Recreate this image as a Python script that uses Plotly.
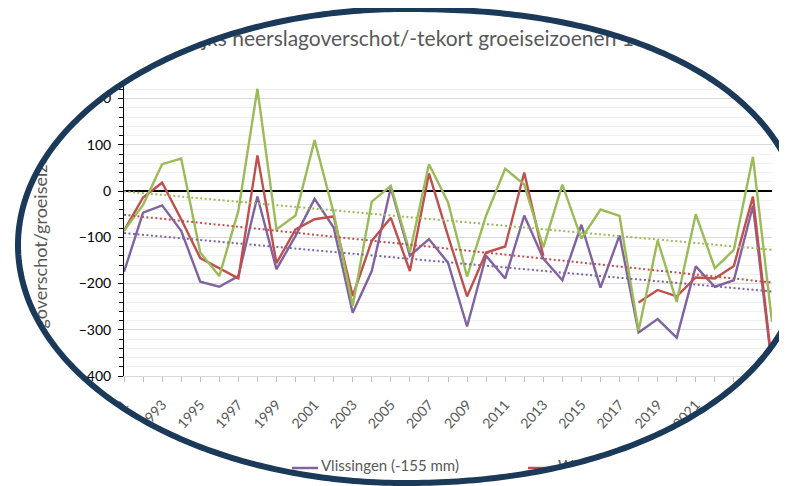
import numpy as np
import plotly.graph_objects as go

# ---------------- data ----------------
years = list(range(1991, 2026))
vlissingen = [-175, -47, -31, -86, -196, -207, -184, -12, -169, -97, -17, -79, -263, -173, 7,
              -140, -104, -155, -293, -140, -189, -53, -146, -193, -73, -209, -96, -306, -277,
              -317, -163, -207, -193, -32, -380]
wilhelminadorp = [-86, -14, 18, -61, -145, -167, -189, 77, -156, -83, -61, -55, -227, -108, -58,
                  -173, 38, -97, -228, -133, -120, 40, -140, None, None, None, None, -241, -214,
                  -228, -187, -189, -162, -12, -375]
westdorpe = [-86, -30, 58, 70, -133, -184, -43, 221, -83, -53, 110, -47, -248, -23, 11,
             -133, 58, -24, -185, -53, 48, 14, -122, 14, -103, -40, -54, -302, -107,
             -240, -50, -167, -127, 74, -283]
series_names = ["Vlissingen (-155 mm)", "Wilhelminadorp (-138 mm)", "Westdorpe (-64 mm)"]
series_colors = ["#8064A2", "#C0504D", "#9BBB59"]
title_text = "Jaarlijks neerslagoverschot/-tekort groeiseizoenen 1991-2025"
ytitle_text = "neerslagoverschot/groeiseizoen (mm)"

# ---------------- geometry (window pixels; page body has an 8px margin) ----------------
OFF = 8
WIN_W, WIN_H = 787, 486
W, H = WIN_W - OFF, WIN_H - OFF
PL, PR, PT, PB = 124, 772, 80, 376          # plot area in window pixels
X0, X1 = 1991, 2025
Y0, Y1 = -400, 240


def val_of(py):
    return Y1 - (py - PT) / (PB - PT) * (Y1 - Y0)


FONT = "Lato"
fig = go.Figure()

all_series = [vlissingen, wilhelminadorp, westdorpe]
for vals, name, col in zip(all_series, series_names, series_colors):
    fig.add_trace(go.Scatter(x=years, y=vals, mode="lines", name=name,
                             line=dict(color=col, width=2.4), connectgaps=False,
                             showlegend=False, hoverinfo="skip"))

# linear trendlines (least squares on each series)
for vals, col in zip(all_series, series_colors):
    xs = np.array([y for y, v in zip(years, vals) if v is not None], float)
    ys = np.array([v for v in vals if v is not None], float)
    a, b = np.polyfit(xs, ys, 1)
    fig.add_trace(go.Scatter(x=[X0, X1], y=[a * X0 + b, a * X1 + b], mode="lines",
                             line=dict(color=col, width=2, dash="2px,2.5px"),
                             showlegend=False, hoverinfo="skip"))

# dummy trace that carries the y-title axis
fig.add_trace(go.Scatter(x=[None], y=[None], yaxis="y2", showlegend=False, hoverinfo="skip"))

# full-window overlay subplot (x3/y3 in window pixels) for title, legend and the oval frame
fig.add_trace(go.Scatter(x=[441], y=[41], xaxis="x3", yaxis="y3", mode="text",
                         text=[title_text],
                         textfont=dict(family=FONT, size=21, color="#595959"),
                         showlegend=False, hoverinfo="skip"))
fig.add_trace(go.Scatter(x=[321, 558], y=[467, 467], xaxis="x3", yaxis="y3", mode="text",
                         text=series_names[:2], textposition="middle right",
                         textfont=dict(family=FONT, size=15, color="#595959"),
                         showlegend=False, hoverinfo="skip"))

shapes = []
for (xa, xb), col in zip([(292, 318), (528, 555)], series_colors[:2]):
    shapes.append(dict(type="line", xref="x3", yref="y3", x0=xa, x1=xb, y0=468, y1=468,
                       line=dict(color=col, width=2.5), layer="above"))

# oval frame: four quadrant (super)ellipses joined smoothly
cx, cy = 405, 245
quads = [  # (sign x, sign y, rx, ry, exponent)
    (+1, -1, 400, 236, 2.25),   # top right
    (+1, +1, 400, 238, 2.1),    # bottom right
    (-1, +1, 387, 238, 2.0),    # bottom left
    (-1, -1, 387, 236, 2.0),    # top left
]
pts = []
t = np.linspace(0, np.pi / 2, 120)
for k, (sx, sy, rx, ry, n) in enumerate(quads):
    tt = t if k % 2 == 1 else t[::-1]
    xs = cx + sx * rx * np.cos(tt) ** (2 / n)
    ys = cy + sy * ry * np.sin(tt) ** (2 / n)
    pts.extend(zip(xs, ys))
oval = "M " + " L ".join(f"{x:.2f},{y:.2f}" for x, y in pts) + " Z"
outer = "M -200,-200 L 1000,-200 L 1000,700 L -200,700 Z "
shapes.append(dict(type="path", xref="x3", yref="y3", path=outer + oval,
                   fillcolor="white", fillrule="evenodd", line=dict(width=0), layer="above"))
shapes.append(dict(type="path", xref="x3", yref="y3", path=oval,
                   fillcolor="rgba(0,0,0,0)", line=dict(color="#1B3A5A", width=6),
                   layer="above"))

fig.update_layout(
    width=W, height=H,
    margin=dict(l=0, r=0, t=0, b=0, pad=0, autoexpand=False),
    paper_bgcolor="white", plot_bgcolor="rgba(0,0,0,0)",
    showlegend=False,
    shapes=shapes,
    xaxis=dict(domain=[(PL - OFF) / W, (PR - OFF) / W], anchor="y", automargin=False,
               range=[X0, X1], tickmode="linear", tick0=1991, dtick=2, tickangle=-48,
               ticks="outside", ticklen=5, tickcolor="#bfbfbf", showline=True,
               linecolor="#d9d9d9", linewidth=1, showgrid=False, zeroline=False,
               tickfont=dict(family=FONT, size=14, color="#595959"), ticklabelstandoff=9,
               minor=dict(dtick=1, tick0=1991, ticks="outside", ticklen=5, tickcolor="#bfbfbf")),
    yaxis=dict(domain=[(WIN_H - PB) / H, (WIN_H - PT) / H], anchor="x", automargin=False,
               range=[Y0, Y1], tickmode="linear", tick0=0, dtick=100,
               ticks="outside", ticklen=5, tickcolor="black", showline=True,
               linecolor="black", linewidth=1, showgrid=True, gridcolor="#d9d9d9", gridwidth=1,
               zeroline=True, zerolinecolor="black", zerolinewidth=2,
               tickfont=dict(family=FONT, size=14, color="black"), ticklabelstandoff=4,
               minor=dict(dtick=20, showgrid=True, gridcolor="#f0f0f0", ticks="outside",
                          ticklen=4, tickcolor="black")),
    yaxis2=dict(overlaying="y", anchor="free", position=(PL - OFF) / W, side="left",
                automargin=False,
                range=[Y0, Y1], tickmode="array", tickvals=[val_of(241)],
                ticktext=[ytitle_text], tickangle=-90, ticks="", showline=False,
                showgrid=False, zeroline=False,
                tickfont=dict(family=FONT, size=18, color="#595959"), ticklabelstandoff=73),
    xaxis3=dict(domain=[0, 1], anchor="y3", range=[OFF, WIN_W], visible=False, automargin=False),
    yaxis3=dict(domain=[0, 1], anchor="x3", range=[WIN_H, OFF], visible=False, automargin=False),
)

fig.write_html("out.html")
